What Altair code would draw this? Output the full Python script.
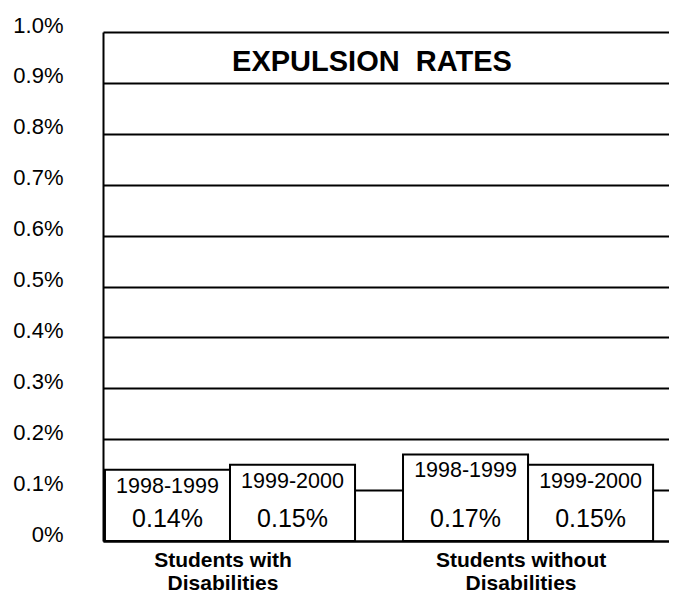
import altair as alt
import pandas as pd

# ---- data ----
groups = ["Students with|Disabilities", "Students without|Disabilities"]
years = ["1998-1999", "1999-2000"]
rates_with = [0.14, 0.15]
rates_without = [0.17, 0.15]
y_ticks = [0, 0.1, 0.2, 0.3, 0.4, 0.5, 0.6, 0.7, 0.8, 0.9, 1.0]
chart_title = ["EXPULSION\u00a0 RATES"]

rows = []
for g, vals in zip(groups, [rates_with, rates_without]):
    for yr, v in zip(years, vals):
        rows.append({"group": g, "year": yr, "rate": v, "label": f"{v:.2f}%"})
df = pd.DataFrame(rows)

FONT = "Liberation Sans"

x_enc = alt.X(
    "group:N",
    sort=groups,
    scale=alt.Scale(paddingInner=0.161, paddingOuter=0.03, align=0.11),
    axis=alt.Axis(
        title=None,
        labelAngle=0,
        labelExpr="split(datum.label, '|')",
        labelFont=FONT,
        labelFontWeight="bold",
        labelFontSize=21,
        labelLineHeight=23,
        labelPadding=8,
        labelBaseline="top",
        labelOffset=-7,
        labelColor="black",
        ticks=False,
        tickSize=0,
        domainColor="black",
        domainWidth=2,
    ),
)
xoff_enc = alt.XOffset("year:N", sort=years, scale=alt.Scale(paddingInner=0, paddingOuter=0))

y_scale = alt.Scale(domain=[0, 1], nice=False)
y_axis = alt.Axis(
    title=None,
    values=y_ticks,
    labelExpr="datum.value == 0 ? '0%' : format(datum.value, '.1f') + '%'",
    labelFont=FONT,
    labelFontSize=22,
    labelColor="black",
    labelBaseline="alphabetic",
    labelPadding=40,
    ticks=False,
    tickSize=0,
    grid=True,
    gridColor="black",
    gridWidth=1.8,
    gridOpacity=1,
    domainColor="black",
    domainWidth=2,
)

base = alt.Chart(df).encode(x=x_enc, xOffset=xoff_enc)

bars = base.mark_bar(fill="white", stroke="black", strokeWidth=2).encode(
    y=alt.Y("rate:Q", scale=y_scale, axis=y_axis)
)

year_text = base.mark_text(
    dy=17, baseline="middle", font=FONT, fontSize=21.5, color="black"
).encode(y=alt.Y("rate:Q", scale=y_scale), text="year:N")

pct_text = base.mark_text(
    dy=-22, baseline="middle", font=FONT, fontSize=25, color="black"
).encode(y=alt.datum(0, scale=y_scale), text="label:N")

title_text = alt.Chart(pd.DataFrame({"t": chart_title})).mark_text(
    font=FONT, fontSize=29, fontWeight="bold", color="black", baseline="middle"
).encode(x=alt.value(269), y=alt.value(30), text="t:N")

chart = (
    alt.layer(bars, year_text, pct_text, title_text)
    .properties(
        width=566,
        height=509,
        autosize=alt.AutoSizeParams(type="none"),
        padding={"left": 95, "top": 24, "right": 0, "bottom": 52},
        background="white",
    )
    .configure_view(stroke=None)
)

chart.save("out.html", embed_options={"renderer": "svg", "actions": False})
